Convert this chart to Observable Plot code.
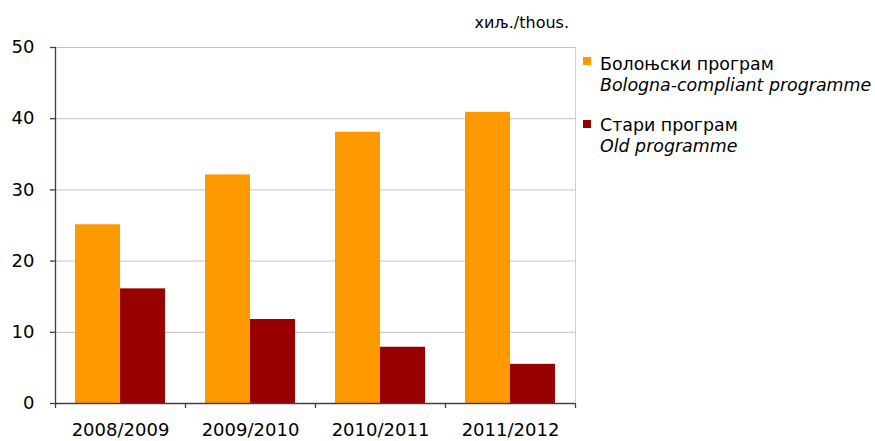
<!DOCTYPE html>
<html>
<head>
<meta charset="utf-8">
<script src="https://cdn.jsdelivr.net/npm/d3@7"></script>
<script src="https://cdn.jsdelivr.net/npm/@observablehq/plot@0.6"></script>
<style>
  html, body { margin: 0; padding: 0; background: #fff; }
  #wrap { position: relative; width: 875px; height: 441px; font-family: "DejaVu Sans", sans-serif; color: #000; }
  #wrap svg { position: absolute; left: 0; top: 0; }
  .unit { position: absolute; right: 306px; top: 15px; font-size: 16px; line-height: 16px; white-space: nowrap; }
  .leg { position: absolute; left: 600px; font-size: 17.4px; line-height: 21px; white-space: nowrap; }
  .leg i { display: block; }
  .sw { position: absolute; left: 583px; width: 8px; height: 8px; }
</style>
</head>
<body>
<div id="wrap"></div>
<script>
const years = ["2008/2009", "2009/2010", "2010/2011", "2011/2012"];
const bologna = [25.1, 32.1, 38.1, 40.9];
const oldProg = [16.1, 11.8, 7.9, 5.5];
const seriesNames = ["Болоњски програм", "Стари програм"];
const seriesNamesEn = ["Bologna-compliant programme", "Old programme"];
const colors = ["#FF9900", "#990000"];
const yTicks = [0, 10, 20, 30, 40, 50];
const unitLabel = "хиљ./thous.";

const data = years.flatMap((yr, i) => [
  {year: yr, series: seriesNames[0], value: bologna[i]},
  {year: yr, series: seriesNames[1], value: oldProg[i]}
]);

const W = 875, H = 441, mL = 55, mR = 300, mT = 47, mB = 38;
const step = (W - mL - mR) / years.length;

const chart = Plot.plot({
  width: W, height: H,
  marginLeft: mL, marginRight: mR, marginTop: mT, marginBottom: mB,
  style: {fontFamily: "DejaVu Sans", fontSize: "18px", color: "#000", background: "transparent", overflow: "visible"},
  fx: {domain: years, paddingInner: 0, paddingOuter: 0, label: null, axis: null},
  x: {domain: seriesNames, paddingInner: 0, paddingOuter: 20 / 45, axis: null},
  y: {domain: [0, 50], label: null, axis: null},
  color: {domain: seriesNames, range: colors},
  marks: [
    Plot.ruleY(yTicks.slice(1), {stroke: "#c4c4c4", strokeWidth: 1}),
    Plot.barY(data, {fx: "year", x: "series", y: "value", fill: "series"}),
    Plot.frame({anchor: "right", facetAnchor: "right", stroke: "#d0d0d0"}),
    Plot.ruleY([0], {stroke: "#404040", strokeWidth: 1.3}),
    Plot.frame({anchor: "left", facetAnchor: "left", stroke: "#404040", strokeWidth: 1.3}),
    Plot.axisY({ticks: yTicks, tickSize: 5, tickPadding: 16, stroke: "#404040", strokeWidth: 1.3, label: null, fontSize: 18, facetAnchor: "left"}),
    Plot.axisFx({anchor: "bottom", tickSize: 0, tickPadding: 20, label: null, fontSize: 18}),
    Plot.axisFx({anchor: "bottom", tickSize: 5, text: null, label: null, dx: -step / 2, stroke: "#404040", strokeWidth: 1.3}),
    Plot.axisFx({anchor: "bottom", ticks: [years[years.length - 1]], tickSize: 5, text: null, label: null, dx: step / 2, stroke: "#404040", strokeWidth: 1.3})
  ]
});

const wrap = document.getElementById("wrap");
wrap.appendChild(chart);

const unit = document.createElement("div");
unit.className = "unit";
unit.textContent = unitLabel;
wrap.appendChild(unit);

const legTops = [54, 115];
const swTops = [57, 120];
seriesNames.forEach((name, i) => {
  const sw = document.createElement("div");
  sw.className = "sw";
  sw.style.top = swTops[i] + "px";
  sw.style.background = colors[i];
  wrap.appendChild(sw);
  const lg = document.createElement("div");
  lg.className = "leg";
  lg.style.top = legTops[i] + "px";
  const a = document.createElement("span");
  a.textContent = name;
  const b = document.createElement("i");
  b.textContent = seriesNamesEn[i];
  lg.appendChild(a);
  lg.appendChild(b);
  wrap.appendChild(lg);
});
</script>
</body>
</html>
